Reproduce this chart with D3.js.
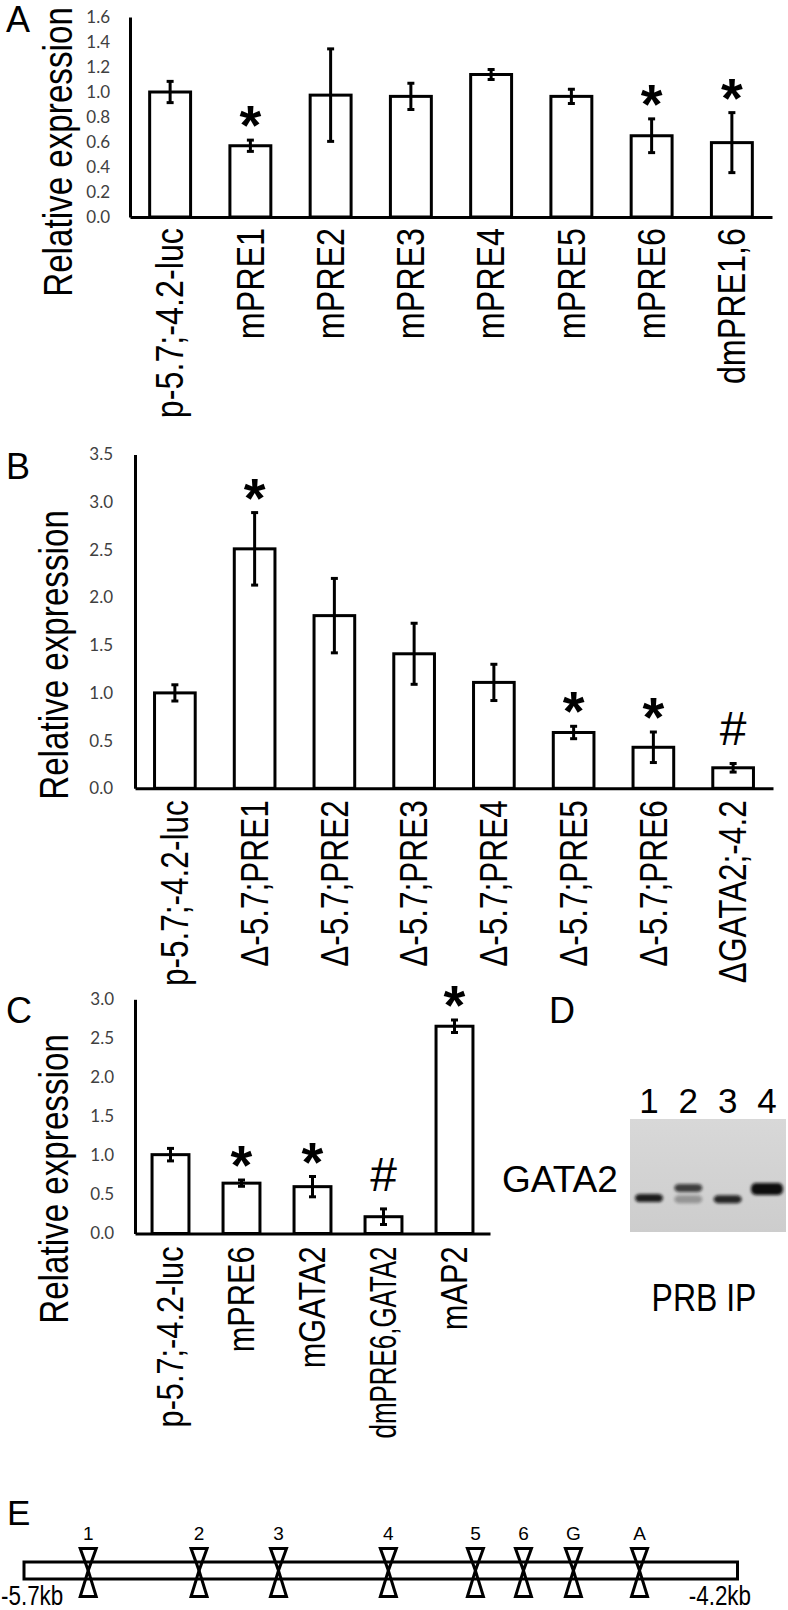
<!DOCTYPE html>
<html><head><meta charset="utf-8">
<script src="https://cdn.jsdelivr.net/npm/d3@7"></script>
<style>html,body{margin:0;padding:0;background:#fff}</style>
</head><body>
<svg id="fig" width="788" height="1610" xmlns="http://www.w3.org/2000/svg"></svg>
<script>
// ---------- DATA ----------
const catsA = ["p-5.7;-4.2-luc","mPRE1","mPRE2","mPRE3","mPRE4","mPRE5","mPRE6","dmPRE1,6"];
const valsA = [1.00, 0.57, 0.975, 0.965, 1.14, 0.965, 0.65, 0.595];
const errA  = [0.085, 0.045, 0.37, 0.105, 0.04, 0.057, 0.135, 0.24];
const sigA  = ["", "*", "", "", "", "", "*", "*"];
const ticksA = [0.0,0.2,0.4,0.6,0.8,1.0,1.2,1.4,1.6];

const catsB = ["p-5.7;-4.2-luc","\u0394-5.7;PRE1","\u0394-5.7;PRE2","\u0394-5.7;PRE3","\u0394-5.7;PRE4","\u0394-5.7;PRE5","\u0394-5.7;PRE6","\u0394GATA2;-4.2"];
const valsB = [1.00, 2.51, 1.81, 1.41, 1.11, 0.585, 0.43, 0.215];
const errB  = [0.085, 0.38, 0.39, 0.32, 0.19, 0.065, 0.16, 0.045];
const sigB  = ["", "*", "", "", "", "*", "*", "#"];
const ticksB = [0.0,0.5,1.0,1.5,2.0,2.5,3.0,3.5];

const catsC = ["p-5.7;-4.2-luc","mPRE6","mGATA2","dmPRE6,GATA2","mAP2"];
const valsC = [1.01, 0.645, 0.60, 0.215, 2.655];
const errC  = [0.08, 0.04, 0.13, 0.10, 0.08];
const sigC  = ["", "*", "*", "#", "*"];
const ticksC = [0.0,0.5,1.0,1.5,2.0,2.5,3.0];

const yTitle = "Relative expression";

// gel (panel D)
const gelLanes = ["1","2","3","4"];
const bandLane = ["1","2","2","3","4"];
const bandRf   = [0.70, 0.61, 0.71, 0.71, 0.62];
const bandInt  = [0.92, 0.75, 0.30, 0.88, 1.0];
const gelRowLabel = "GATA2";
const gelCaption = "PRB IP";

// map (panel E)
const siteNames = ["1","2","3","4","5","6","G","A"];
const siteKb    = [-5.565,-5.332,-5.165,-4.934,-4.751,-4.650,-4.545,-4.406];
const regionKb  = [-5.7,-4.2];
const regionLabels = ["-5.7kb","-4.2kb"];

// ---------- DRAW ----------
const svg = d3.select("#fig");
const SANS = "'Liberation Sans', Arial, sans-serif";
const TICKF = "Lato, 'Open Sans', sans-serif";

function panel(o){
  const x = d3.scaleBand().domain(o.cats).range([o.x0,o.x1]).paddingInner(o.pad).paddingOuter(o.pad/2);
  const y = d3.scaleLinear().domain([0,o.ymax]).range([o.yBase,o.yTop]);
  const g = svg.append("g");
  const bw = x.bandwidth();
  const data = o.cats.map((c,i)=>({c, v:o.vals[i], e:o.errs[i], s:o.sig[i]}));

  // bars
  g.selectAll("rect.bar").data(data).join("rect").attr("class","bar")
    .attr("x",d=>x(d.c)).attr("y",d=>y(d.v))
    .attr("width",bw).attr("height",d=>y(0)-y(d.v))
    .attr("fill","#fff").attr("stroke","#000").attr("stroke-width",3);

  // error bars
  const eb = g.selectAll("g.eb").data(data).join("g").attr("class","eb")
    .attr("transform",d=>`translate(${x(d.c)+bw/2},0)`);
  eb.append("line").attr("y1",d=>y(d.v-d.e)).attr("y2",d=>y(d.v+d.e))
    .attr("stroke","#000").attr("stroke-width",3);
  eb.append("line").attr("x1",-3.5).attr("x2",3.5).attr("y1",d=>y(d.v+d.e)).attr("y2",d=>y(d.v+d.e))
    .attr("stroke","#000").attr("stroke-width",3);
  eb.append("line").attr("x1",-3.5).attr("x2",3.5).attr("y1",d=>y(d.v-d.e)).attr("y2",d=>y(d.v-d.e))
    .attr("stroke","#000").attr("stroke-width",3);

  // significance marks
  eb.filter(d=>d.s==="*").append("text")
    .attr("y",d=>y(d.v+d.e)-18+22).attr("text-anchor","middle")
    .attr("font-family",SANS).attr("font-weight","bold").attr("font-size",56).text(d=>d.s);
  eb.filter(d=>d.s==="#").append("text")
    .attr("y",d=>y(d.v+d.e)-18).attr("text-anchor","middle")
    .attr("font-family",SANS).attr("font-size",48).text(d=>d.s);

  // y axis
  const ay = g.append("g").attr("transform",`translate(${o.x0},0)`)
    .call(d3.axisLeft(y).tickValues(o.ticks).tickSize(0).tickSizeOuter(0).tickPadding(o.tickPad).tickFormat(d3.format(".1f")));
  ay.select(".domain").attr("stroke","#000").attr("stroke-width",3);
  ay.selectAll(".tick text").attr("font-family",TICKF).attr("font-size",o.tickFs).attr("fill","#404040");

  // x axis
  const ax = g.append("g").attr("transform",`translate(0,${o.yBase})`)
    .call(d3.axisBottom(x).tickSize(0).tickSizeOuter(0));
  ax.select(".domain").attr("stroke","#000").attr("stroke-width",3);
  ax.selectAll(".tick text")
    .attr("x",0).attr("y",0).attr("dy","0.35em")
    .attr("text-anchor","end").attr("font-family",SANS).attr("font-size",o.labFs).attr("fill","#000")
    .each(function(){
      const len = this.getComputedTextLength();
      let sx = o.labSx;
      if (len*sx > o.labMax) sx = o.labMax/len;
      d3.select(this).attr("transform",`translate(0,${o.labGap}) rotate(-90) scale(${sx},1)`);
    });

  // y title
  g.append("text").attr("transform",`translate(${o.titleX},${o.titleY}) rotate(-90) scale(0.83,1)`)
    .attr("text-anchor","middle").attr("font-family",SANS).attr("font-size",40).text(yTitle);

  // panel letter
  g.append("text").attr("x",o.letX).attr("y",o.letY).attr("font-family",SANS).attr("font-size",36).text(o.letter);
}

panel({cats:catsA, vals:valsA, errs:errA, sig:sigA, ticks:ticksA, ymax:1.6,
  x0:130, x1:772, yBase:217, yTop:17, pad:0.49, tickPad:20, tickFs:17,
  labGap:11, labFs:38, labSx:0.85, labMax:200, titleX:72, titleY:152, letX:6, letY:32, letter:"A"});
panel({cats:catsB, vals:valsB, errs:errB, sig:sigB, ticks:ticksB, ymax:3.5,
  x0:135, x1:773, yBase:788.3, yTop:454.4, pad:0.49, tickPad:22, tickFs:17,
  labGap:12, labFs:38, labSx:0.83, labMax:200, titleX:68, titleY:655, letX:6, letY:479, letter:"B"});
panel({cats:catsC, vals:valsC, errs:errC, sig:sigC, ticks:ticksC, ymax:3.0,
  x0:135, x1:490, yBase:1233.5, yTop:999.3, pad:0.48, tickPad:21, tickFs:17,
  labGap:13, labFs:37, labSx:0.83, labMax:192, titleX:68, titleY:1179, letX:6, letY:1023, letter:"C"});

// ---------- Panel D : gel ----------
(function(){
  const g = svg.append("g");
  const gx0 = 630, gx1 = 786, gy0 = 1119, gy1 = 1232;
  const defs = svg.append("defs");
  const grad = defs.append("linearGradient").attr("id","gelbg").attr("x1",0).attr("y1",0).attr("x2",0).attr("y2",1);
  grad.append("stop").attr("offset","0%").attr("stop-color","#d8d8d8");
  grad.append("stop").attr("offset","100%").attr("stop-color","#cdcdcd");
  defs.append("filter").attr("id","blur").attr("x","-30%").attr("y","-80%").attr("width","160%").attr("height","260%")
    .append("feGaussianBlur").attr("stdDeviation",1.8);
  g.append("rect").attr("x",gx0).attr("y",gy0).attr("width",gx1-gx0).attr("height",gy1-gy0).attr("fill","url(#gelbg)");
  const lane = d3.scalePoint().domain(gelLanes).range([649,767]);
  const ry = d3.scaleLinear().domain([0,1]).range([gy0,gy1]);
  const bands = bandLane.map((l,i)=>({l, rf:bandRf[i], k:bandInt[i]}));
  g.selectAll("rect.band").data(bands).join("rect").attr("class","band")
    .attr("x",d=>lane(d.l)-(d.k>0.95?16:14)).attr("width",d=>d.k>0.95?32:28)
    .attr("y",d=>ry(d.rf)-(d.k>0.95?6:4)).attr("height",d=>d.k>0.95?12:8)
    .attr("rx",5).attr("fill","#0a0a0a").attr("opacity",d=>d.k).attr("filter","url(#blur)");
  g.selectAll("text.lane").data(gelLanes).join("text").attr("class","lane")
    .attr("x",d=>lane(d)).attr("y",1113).attr("text-anchor","middle")
    .attr("font-family",SANS).attr("font-size",35).text(d=>d);
  g.append("text").attr("x",502).attr("y",1192).attr("font-family",SANS).attr("font-size",37).text(gelRowLabel);
  g.append("text").attr("transform","translate(704,1311) scale(0.82,1)").attr("text-anchor","middle")
    .attr("font-family",SANS).attr("font-size",39).text(gelCaption);
  g.append("text").attr("x",549).attr("y",1023).attr("font-family",SANS).attr("font-size",36).text("D");
})();

// ---------- Panel E : map ----------
(function(){
  const g = svg.append("g");
  const x = d3.scaleLinear().domain(regionKb).range([24,737.5]);
  const yTop = 1562, yBot = 1579, yc = (yTop+yBot)/2;
  g.append("rect").attr("x",x(regionKb[0])).attr("y",yTop).attr("width",x(regionKb[1])-x(regionKb[0])).attr("height",yBot-yTop)
    .attr("fill","#fff").attr("stroke","#000").attr("stroke-width",3);
  const hw = 8;
  const s = g.selectAll("g.site").data(siteNames.map((n,i)=>({n,k:siteKb[i]}))).join("g").attr("class","site")
    .attr("transform",d=>`translate(${x(d.k)},0)`);
  s.append("path").attr("d",`M${-hw},1548.5L${hw},1548.5L0,${yc}Z`).attr("fill","none").attr("stroke","#000").attr("stroke-width",3);
  s.append("path").attr("d",`M${-hw},1596.5L${hw},1596.5L0,${yc}Z`).attr("fill","none").attr("stroke","#000").attr("stroke-width",3);
  s.append("text").attr("y",1540).attr("text-anchor","middle").attr("font-family",SANS).attr("font-size",19).text(d=>d.n);
  g.append("text").attr("transform","translate(1,1605) scale(0.83,1)").attr("font-family",SANS).attr("font-size",27).text(regionLabels[0]);
  g.append("text").attr("transform","translate(751,1605) scale(0.83,1)").attr("text-anchor","end").attr("font-family",SANS).attr("font-size",27).text(regionLabels[1]);
  g.append("text").attr("x",7).attr("y",1525).attr("font-family",SANS).attr("font-size",35).text("E");
})();
</script>
</body></html>
